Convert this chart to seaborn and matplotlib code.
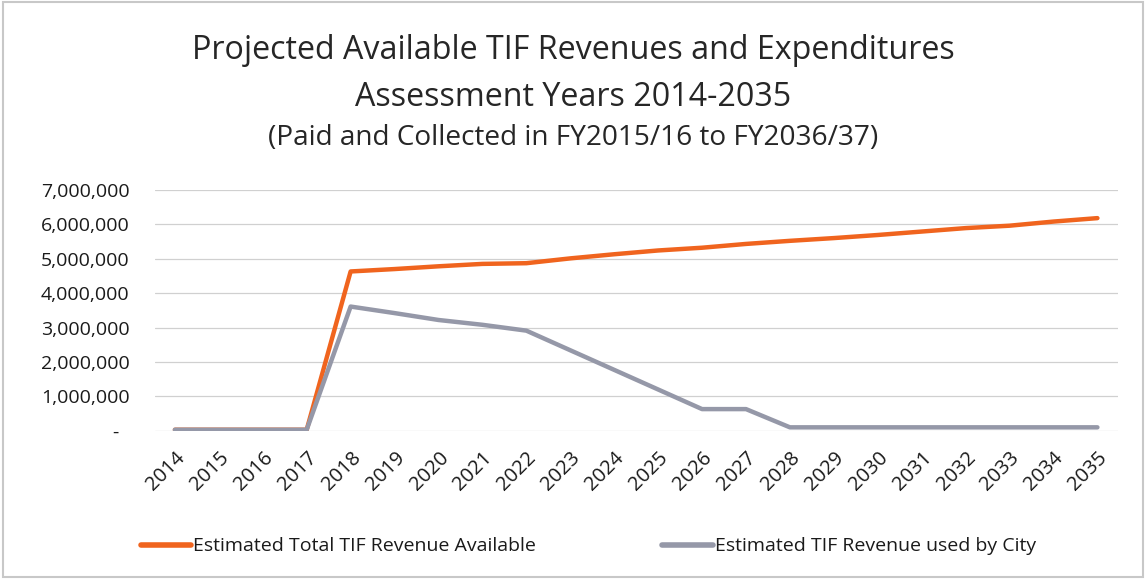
import matplotlib
matplotlib.use("Agg")
import matplotlib.pyplot as plt
import seaborn as sns
import pandas as pd
from matplotlib.ticker import FuncFormatter, MultipleLocator
from matplotlib.patches import Rectangle

years = [str(y) for y in range(2014, 2036)]
total_available = [30000, 30000, 30000, 30000, 4630000, 4700000, 4780000, 4850000, 4870000,
                   5010000, 5130000, 5240000, 5320000, 5430000, 5520000, 5600000, 5690000,
                   5790000, 5890000, 5960000, 6080000, 6180000]
used_by_city = [30000, 30000, 30000, 30000, 3610000, 3420000, 3220000, 3080000, 2910000,
                2340000, 1770000, 1200000, 630000, 630000, 100000, 100000, 100000,
                100000, 100000, 100000, 100000, 100000]
series_names = ["Estimated Total TIF Revenue Available", "Estimated TIF Revenue used by City"]

df = pd.DataFrame({
    "Year": years * 2,
    "Value": total_available + used_by_city,
    "Series": [series_names[0]] * len(years) + [series_names[1]] * len(years),
})

sns.set_theme(style="white")
plt.rcParams['font.family'] = ['Open Sans', 'DejaVu Sans']

fig = plt.figure(figsize=(11.46, 5.79), dpi=100)
ax = fig.add_axes([0.135, 0.256, 0.841, 0.416])

palette = {series_names[0]: "#F0641E", series_names[1]: "#9598A8"}
sns.lineplot(data=df, x="Year", y="Value", hue="Series", palette=palette,
             linewidth=3.2, ax=ax, sort=False)

ax.set_xlim(-0.46, 21.48)
ax.set_ylim(0, 7000000)
ax.yaxis.set_major_locator(MultipleLocator(1000000))
ax.yaxis.set_major_formatter(FuncFormatter(lambda v, p: "-  " if v == 0 else f"{int(v):,}"))
ax.grid(axis="y", color="#D0D0D0", linewidth=0.9)
ax.grid(axis="x", visible=False)
for s in ax.spines.values():
    s.set_visible(False)
ax.tick_params(axis="y", labelsize=14, colors="#1a1a1a", pad=18, length=0)
ax.tick_params(axis="x", labelsize=14.5, colors="#1a1a1a", length=0, pad=12)
for lab in ax.get_xticklabels():
    lab.set_rotation(45)
    lab.set_ha("right")
    lab.set_rotation_mode("anchor")
ax.set_xlabel("")
ax.set_ylabel("")

leg = ax.legend(loc="upper center", bbox_to_anchor=(0.45, -0.37), ncol=2, frameon=False,
                fontsize=14, handlelength=2.6, columnspacing=6.5, handletextpad=0.1)
for line in leg.get_lines():
    line.set_linewidth(4)
for t in leg.get_texts():
    t.set_color("#1a1a1a")

fig.text(0.5, 0.913, "Projected Available TIF Revenues and Expenditures", ha="center",
         va="center", fontsize=23.2, color="#262626")
fig.text(0.5, 0.832, "Assessment Years 2014-2035", ha="center", va="center",
         fontsize=23.2, color="#262626")
fig.text(0.5, 0.762, "(Paid and Collected in FY2015/16 to FY2036/37)", ha="center",
         va="center", fontsize=20.2, color="#262626")

fig.patches.append(Rectangle((0.003, 0.003), 0.994, 0.994, transform=fig.transFigure,
                             fill=False, edgecolor="#C8C8C8", linewidth=1.5))

fig.savefig("out.png", dpi=100)
